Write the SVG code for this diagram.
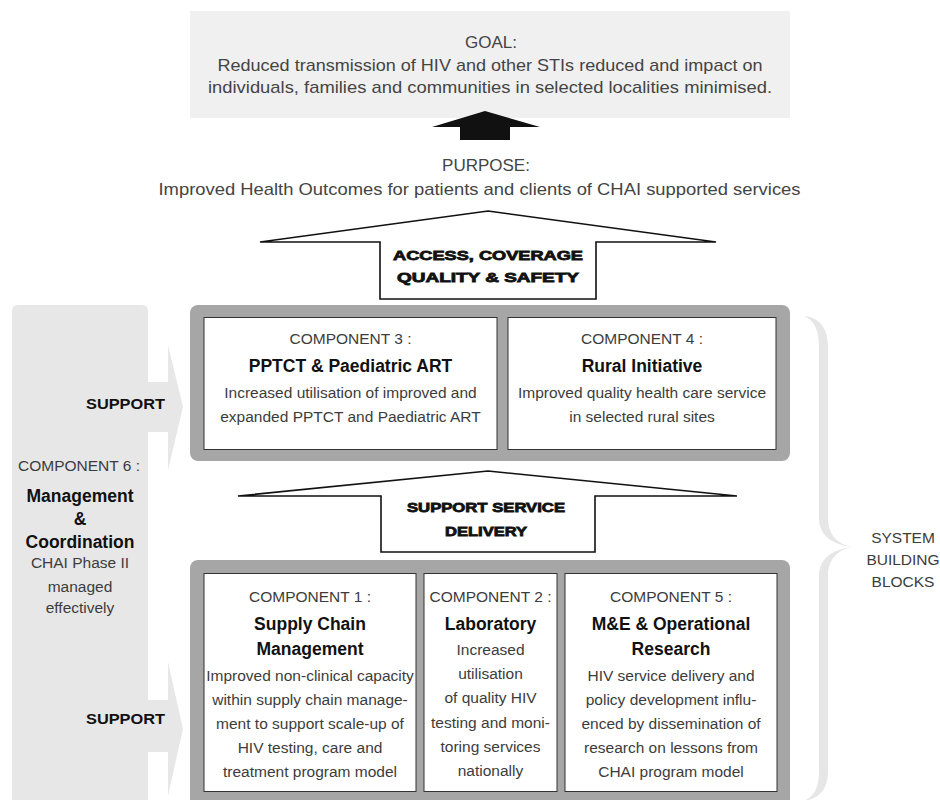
<svg xmlns="http://www.w3.org/2000/svg" width="940" height="800" viewBox="0 0 940 800">
<style>
text{font-family:"Liberation Sans",Arial,sans-serif;text-anchor:middle}
.lt{font-size:15.5px;fill:#3c3c3c}
.big{font-size:17px;fill:#444}
.hd{font-size:17.5px;font-weight:bold;fill:#111}
.ar{font-size:13px;font-weight:bold;fill:#111;stroke:#111;stroke-width:0.8}
.sp{font-size:15px;font-weight:bold;fill:#111;text-anchor:end}
.cont{fill:#a6a6a6}
.box{fill:#fff;stroke:#333;stroke-width:1}
.harrow{fill:#fff;stroke:#111;stroke-width:1.6;stroke-linejoin:miter}
</style>
<rect width="940" height="800" fill="#fff"/>

<g id="goal">
<rect x="190" y="11" width="600" height="107" fill="#f0f0f0"/>
<text class="big" x="491" y="48">GOAL:</text>
<text class="big" x="490" y="71" textLength="545" lengthAdjust="spacingAndGlyphs">Reduced transmission of HIV and other STIs reduced and impact on</text>
<text class="big" x="490" y="93" textLength="564" lengthAdjust="spacingAndGlyphs">individuals, families and communities in selected localities minimised.</text>
</g>

<g id="purpose">
<text class="big" x="486" y="171">PURPOSE:</text>
<text class="big" x="479.5" y="195" textLength="642" lengthAdjust="spacingAndGlyphs">Improved Health Outcomes for patients and clients of CHAI supported services</text>
</g>

<g id="component6">
<path d="M12,311 Q12,305 18,305 L142,305 Q148,305 148,311 L148,382 L168,382 L168,345 L183,407 L168,470 L168,432 L148,432 L148,700 L168,700 L168,662 L183,729 L168,796 L168,752 L148,752 L148,800 L12,800 Z" fill="#e7e7e7"/>
<text class="sp" x="165" y="408.5" textLength="79" lengthAdjust="spacingAndGlyphs">SUPPORT</text>
<text class="sp" x="165" y="723.5" textLength="79" lengthAdjust="spacingAndGlyphs">SUPPORT</text>
<text class="lt" x="79" y="471">COMPONENT 6 :</text>
<text class="hd" x="80" y="502">Management</text>
<text class="hd" x="80" y="525">&amp;</text>
<text class="hd" x="80" y="548">Coordination</text>
<text class="lt" x="80" y="568">CHAI Phase II</text>
<text class="lt" x="80" y="592">managed</text>
<text class="lt" x="80" y="613">effectively</text>
</g>

<g id="container-upper">
<rect class="cont" x="190" y="305" width="600" height="156" rx="8"/>
</g>
<g id="component3">
<rect class="box" x="204" y="317.5" width="293" height="132"/>
<text class="lt" x="350.5" y="344">COMPONENT 3 :</text>
<text class="hd" x="350.5" y="372">PPTCT &amp; Paediatric ART</text>
<text class="lt" x="350.5" y="397.5">Increased utilisation of improved and</text>
<text class="lt" x="350.5" y="421.5">expanded PPTCT and Paediatric ART</text>
</g>
<g id="component4">
<rect class="box" x="508" y="317.5" width="268" height="132"/>
<text class="lt" x="642" y="344">COMPONENT 4 :</text>
<text class="hd" x="642" y="372">Rural Initiative</text>
<text class="lt" x="642" y="397.5">Improved quality health care service</text>
<text class="lt" x="642" y="421.5">in selected rural sites</text>
</g>

<g id="container-lower">
<rect class="cont" x="190" y="560" width="600" height="260" rx="8"/>
</g>
<g id="component1">
<rect class="box" x="204" y="573.5" width="212" height="218"/>
<text class="lt" x="310" y="602">COMPONENT 1 :</text>
<text class="hd" x="310" y="630">Supply Chain</text>
<text class="hd" x="310" y="655">Management</text>
<text class="lt" x="310" y="681">Improved non-clinical capacity</text>
<text class="lt" x="310" y="705">within supply chain manage-</text>
<text class="lt" x="310" y="729">ment to support scale-up of</text>
<text class="lt" x="310" y="753">HIV testing, care and</text>
<text class="lt" x="310" y="777">treatment program model</text>
</g>
<g id="component2">
<rect class="box" x="424" y="573.5" width="133" height="218"/>
<text class="lt" x="490.5" y="602">COMPONENT 2 :</text>
<text class="hd" x="490.5" y="630">Laboratory</text>
<text class="lt" x="490.5" y="655">Increased</text>
<text class="lt" x="490.5" y="679">utilisation</text>
<text class="lt" x="490.5" y="703">of quality HIV</text>
<text class="lt" x="490.5" y="728">testing and moni-</text>
<text class="lt" x="490.5" y="752">toring services</text>
<text class="lt" x="490.5" y="776">nationally</text>
</g>
<g id="component5">
<rect class="box" x="565" y="573.5" width="212" height="218"/>
<text class="lt" x="671" y="602">COMPONENT 5 :</text>
<text class="hd" x="671" y="630">M&amp;E &amp; Operational</text>
<text class="hd" x="671" y="655">Research</text>
<text class="lt" x="671" y="681">HIV service delivery and</text>
<text class="lt" x="671" y="705">policy development influ-</text>
<text class="lt" x="671" y="729">enced by dissemination of</text>
<text class="lt" x="671" y="753">research on lessons from</text>
<text class="lt" x="671" y="777">CHAI program model</text>
</g>

<g id="system-building-blocks">
<path d="M804,316 C818,317 828,327 828,346 L828,518 C828,534 837,544 852,547 C837,550 828,560 828,576 L828,772 C828,790 818,799 804,801 C813,797 819,789 819,772 L819,576 C819,560 830,550 852,547 C830,544 819,534 819,518 L819,346 C819,328 813,320 804,316 Z" fill="#e6e6e6"/>
<text class="lt" x="903" y="543">SYSTEM</text>
<text class="lt" x="903" y="565">BUILDING</text>
<text class="lt" x="903" y="587">BLOCKS</text>
</g>

<g id="connectors">
<polygon points="485,111 540,127 510,127 510,140 460,140 460,127 432,127" fill="#111"/>
<polygon class="harrow" points="488,211 716,242 596,242 596,299 380,299 380,242 260,242"/>
<text class="ar" x="488" y="260" textLength="190" lengthAdjust="spacingAndGlyphs">ACCESS, COVERAGE</text>
<text class="ar" x="488" y="281.5" textLength="182" lengthAdjust="spacingAndGlyphs">QUALITY &amp; SAFETY</text>
<polygon class="harrow" points="488,471 737,496 595,496 595,552 381,552 381,496 238,496"/>
<text class="ar" x="486" y="512" textLength="158" lengthAdjust="spacingAndGlyphs">SUPPORT SERVICE</text>
<text class="ar" x="486" y="536" textLength="82" lengthAdjust="spacingAndGlyphs">DELIVERY</text>
</g>
</svg>
